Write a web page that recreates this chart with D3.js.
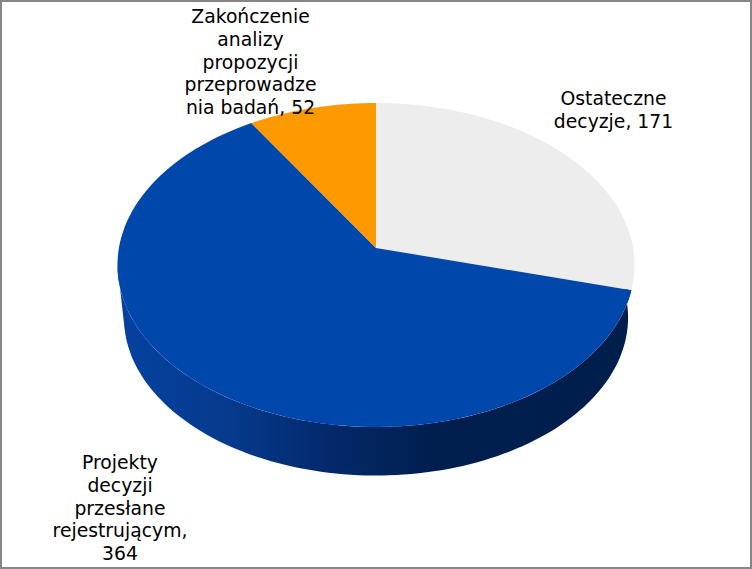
<!DOCTYPE html>
<html><head><meta charset="utf-8">
<script src="https://cdn.jsdelivr.net/npm/d3@7"></script>
<style>html,body{margin:0;padding:0;background:#fff}svg{display:block}text{font-family:"DejaVu Sans",Verdana,sans-serif;font-size:18.8px;fill:#000}</style>
</head><body><div id="c"></div>
<script>
const categories = ["Ostateczne decyzje", "Projekty decyzji przesłane rejestrującym", "Zakończenie analizy propozycji przeprowadzenia badań"];
const values = [171, 364, 52];
const colors = ["#ededed", "#0047ab", "#ff9900"];
const labelLines = [
  ["Ostateczne", "decyzje, 171"],
  ["Projekty", "decyzji", "przesłane", "rejestrującym,", "364"],
  ["Zakończenie", "analizy", "propozycji", "przeprowadze", "nia badań, 52"]
];
const W = 752, H = 569;
const svg = d3.select("#c").append("svg").attr("width", W).attr("height", H);
svg.append("rect").attr("x",1).attr("y",1).attr("width",W-2).attr("height",H-2)
  .attr("fill","#fff").attr("stroke","#868686").attr("stroke-width",2);

const cx = 376, cy = 248, a = 257.1, b = 160.2, k = 0.105;
const project = (t, s = 1, dy = 0) => {
  const u = Math.sin(t), v = Math.cos(t), w = 1 + k * v;
  return [cx + s * a * u / w, cy + dy - s * b * v / w];
};
const line = d3.line();
const arcs = d3.pie().sort(null).value(d => d)(values);
const sample = (t0, t1, s, dy) => d3.range(0, 121).map(i => project(t0 + (t1 - t0) * i / 120, s, dy));

const defs = svg.append("defs");
const g = defs.append("linearGradient").attr("id","wall").attr("gradientUnits","userSpaceOnUse")
  .attr("x1",118).attr("x2",640).attr("y1",0).attr("y2",0);
[[0,"#04429f"],[0.21,"#063a8e"],[0.406,"#03296a"],[0.6,"#001f4f"],[1,"#001e4c"]]
  .forEach(([o,c]) => g.append("stop").attr("offset",o).attr("stop-color",c));

// side wall of the blue slice
const blue = arcs[1];
const leftT = 3 * Math.PI / 2, s2 = 0.975, dy2 = 53;
const wallPts = [...sample(blue.startAngle, leftT - 0.105, 1, 0),
  ...sample(leftT - 0.18, blue.startAngle - 0.55, s2, dy2)];
svg.append("path").attr("d", line(wallPts) + "Z").attr("fill","url(#wall)");

// top faces
svg.selectAll("path.slice").data(arcs).join("path").attr("class","slice")
  .attr("fill", (d,i) => colors[i])
  .attr("d", d => line([[cx,cy], ...sample(d.startAngle, d.endAngle, 1, 0)]) + "Z");

// labels
const labelX = [613.5, 120, 250.5], labelY = [105, 469, 23], lh = 22.75;
labelLines.forEach((ls, i) => {
  svg.append("text").attr("text-anchor","middle").selectAll("tspan").data(ls).join("tspan")
    .attr("x", labelX[i]).attr("y", (d,j) => labelY[i] + j * lh).text(d => d);
});
</script></body></html>
